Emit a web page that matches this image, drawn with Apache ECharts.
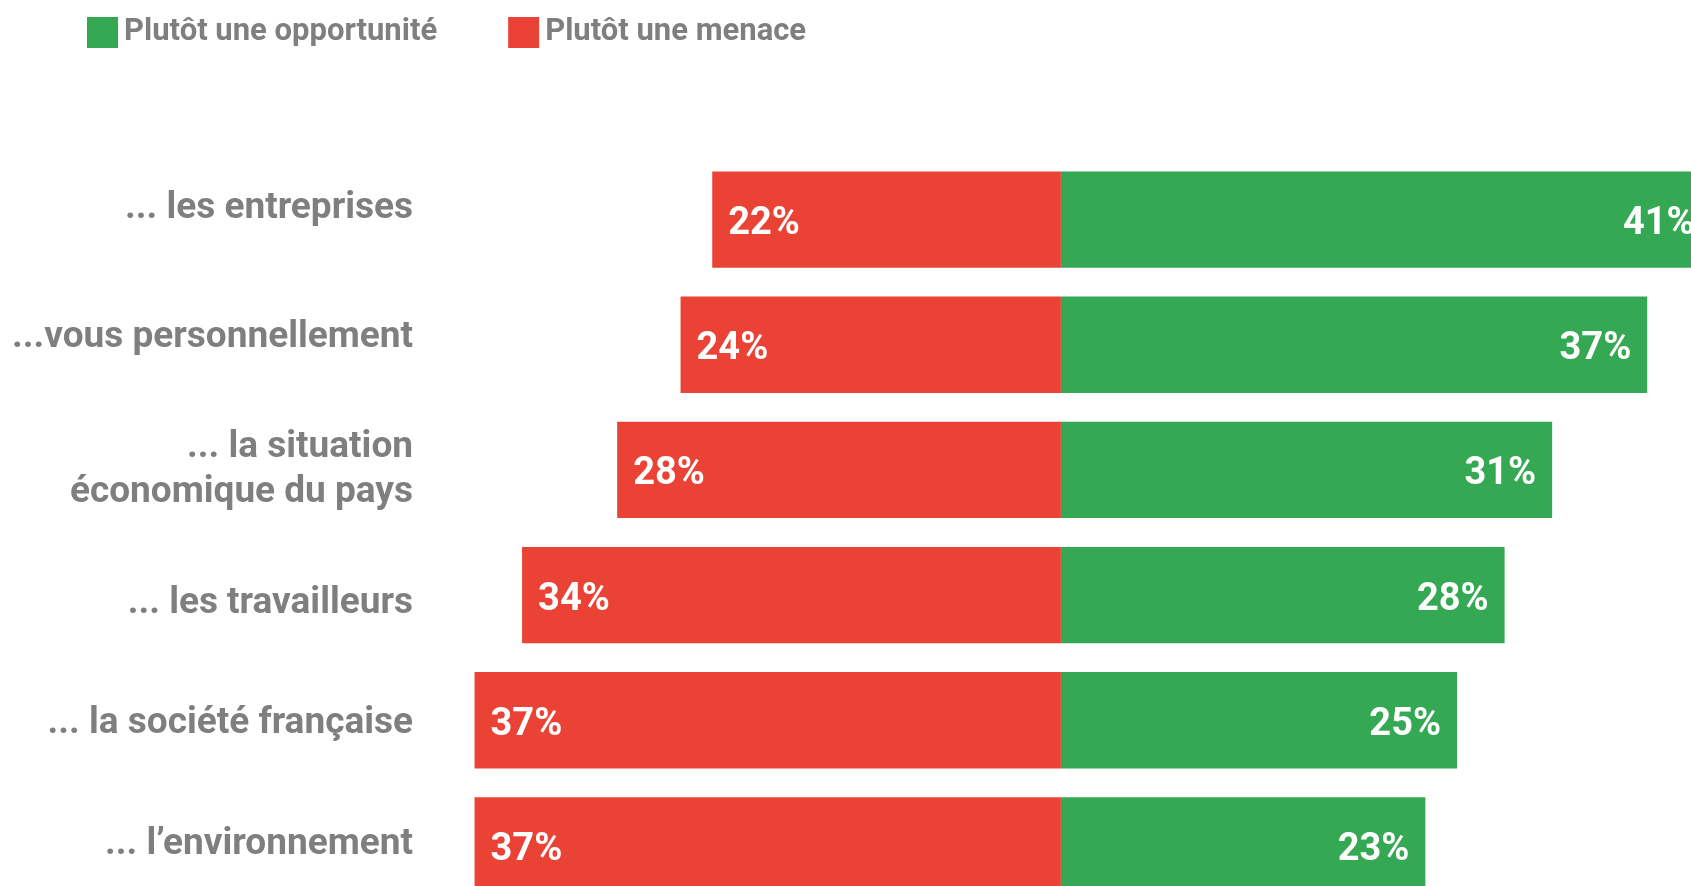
<!DOCTYPE html>
<html>
<head>
<meta charset="utf-8">
<script src="https://cdn.jsdelivr.net/npm/echarts@6/dist/echarts.min.js"></script>
<style>
html,body{margin:0;padding:0;background:#fff;}
#chart{width:1691px;height:886px;}
</style>
</head>
<body>
<div id="chart"></div>
<script>
const categories = ['... les entreprises', '...vous personnellement', '... la situation\néconomique du pays', '... les travailleurs', '... la société française', '... l\u2019environnement'];
const opportunite = [41, 37, 31, 28, 25, 23];
const menace = [22, 24, 28, 34, 37, 37];
const seriesNames = ['Plutôt une opportunité', 'Plutôt une menace'];

const GREEN = '#35a853';
const RED = '#ea4335';
const GRAY = '#7f7f7f';
const FONT = 'Roboto, "Noto Sans", sans-serif';

// per-row vertical placement of category labels: [verticalAlign, lineHeight]
const labelPlace = [['bottom', 22], ['bottom', 14], null, ['top', 18], ['top', 7], ['bottom', 2]];

const chart = echarts.init(document.getElementById('chart'), null, {renderer: 'canvas'});
chart.setOption({
  animation: false,
  backgroundColor: '#ffffff',
  legend: {
    left: 82, top: 12,
    itemWidth: 31, itemHeight: 31, itemGap: 71,
    icon: 'rect',
    data: seriesNames,
    textStyle: {color: GRAY, fontSize: 31, fontWeight: 'bold', fontFamily: FONT, padding: [0, 0, 0, 1]}
  },
  grid: {left: 427, right: -83, top: 157, bottom: -22, containLabel: false, outerBoundsMode: 'none'},
  xAxis: {
    type: 'value', min: -40, max: 45,
    show: false
  },
  yAxis: {
    type: 'category', inverse: true,
    data: categories.map((c, i) => labelPlace[i]
      ? {value: c, textStyle: {verticalAlign: labelPlace[i][0], lineHeight: labelPlace[i][1]}}
      : c),
    axisLine: {show: false}, axisTick: {show: false}, splitLine: {show: false},
    axisLabel: {
      margin: 14, color: GRAY, fontSize: 37, fontWeight: 'bold', fontFamily: FONT,
      lineHeight: 45, align: 'right'
    }
  },
  series: [
    {
      name: seriesNames[0], type: 'bar', stack: 'all',
      data: opportunite,
      itemStyle: {color: GREEN},
      barCategoryGap: '23%',
      clip: false,
      label: {
        show: true, position: 'insideRight', distance: 16, offset: [0, 5],
        color: '#fff', fontSize: 38, fontWeight: 'bold', fontFamily: FONT,
        formatter: p => Math.abs(p.value) + '%'
      }
    },
    {
      name: seriesNames[1], type: 'bar', stack: 'all',
      data: menace.map(v => -v),
      itemStyle: {color: RED},
      barCategoryGap: '23%',
      clip: false,
      label: {
        show: true, position: 'insideLeft', distance: 16, offset: [0, 5],
        color: '#fff', fontSize: 38, fontWeight: 'bold', fontFamily: FONT,
        formatter: p => Math.abs(p.value) + '%'
      }
    }
  ]
});
</script>
</body>
</html>
